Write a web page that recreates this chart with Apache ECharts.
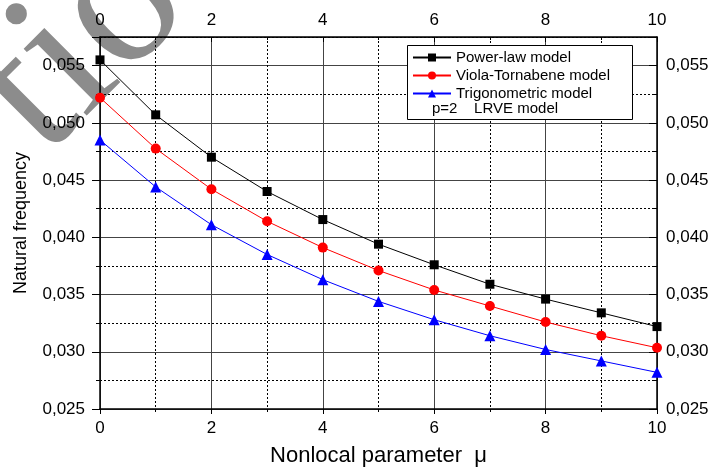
<!DOCTYPE html>
<html>
<head>
<meta charset="utf-8">
<script src="https://cdn.jsdelivr.net/npm/echarts@6/dist/echarts.min.js"></script>
<style>
  html, body { margin: 0; padding: 0; background: #fff; }
  #chart { width: 716px; height: 467px; }
</style>
</head>
<body>
<div id="chart"></div>
<script>
// Nonlocal parameter values (x) and natural frequency for each model
const mu = [0, 1, 2, 3, 4, 5, 6, 7, 8, 9, 10];
const powerLaw = [0.0555, 0.0507, 0.0470, 0.0440, 0.04155, 0.0394, 0.0376, 0.0359, 0.0346, 0.0334, 0.0322];
const violaTornabene = [0.0522, 0.04775, 0.0442, 0.0414, 0.0391, 0.0371, 0.0354, 0.0340, 0.0326, 0.0314, 0.03035];
const trigonometric = [0.0485, 0.0444, 0.0411, 0.0385, 0.0363, 0.0344, 0.0328, 0.0314, 0.0302, 0.0292, 0.0282];

const seriesNames = ['Power-law model', 'Viola-Tornabene model', 'Trigonometric model'];
const legendNote = 'p=2    LRVE model';
const xName = 'Nonlocal parameter  \u03bc';
const yName = 'Natural frequency';

const FONT = 'Liberation Sans, Arial, sans-serif';
const fmtY = v => v.toFixed(3).replace('.', ',');

const chart = echarts.init(document.getElementById('chart'), null, { renderer: 'canvas' });

const pairs = ys => mu.map((x, i) => [x, ys[i]]);

const baseX = {
  type: 'value', min: 0, max: 10, interval: 2,
  axisLine: { show: true, onZero: false, lineStyle: { color: '#000', width: 1.5 } },
  minorTick: { show: true, splitNumber: 2, length: 3, lineStyle: { color: '#000' } },
  axisLabel: { color: '#000', fontFamily: FONT, fontSize: 17 },
};
const baseY = {
  type: 'value', min: 0.025, max: 0.0575, interval: 0.005,
  axisLine: { show: true, onZero: false, lineStyle: { color: '#000', width: 1.5 } },
  minorTick: { show: true, splitNumber: 2, length: 4, lineStyle: { color: '#000' } },
  axisLabel: { color: '#000', fontFamily: FONT, fontSize: 17, formatter: fmtY, showMaxLabel: false },
};

chart.setOption({
  animation: false,
  backgroundColor: '#fff',
  grid: { left: 100, right: 59, top: 37, bottom: 58, containLabel: false, outerBoundsMode: 'none' },
  xAxis: [
    Object.assign({}, baseX, {
      position: 'bottom',
      name: xName, nameLocation: 'middle', nameGap: 36,
      nameTextStyle: { color: '#000', fontFamily: FONT, fontSize: 22 },
      axisTick: { show: true, inside: false, length: 5, lineStyle: { color: '#000' } },
      axisLabel: Object.assign({}, baseX.axisLabel, { margin: 11 }),
      splitLine: { show: true, lineStyle: { color: '#444', width: 1 } },
      minorSplitLine: { show: true, lineStyle: { color: '#000', width: 1, type: [2, 2] } },
    }),
    Object.assign({}, baseX, {
      position: 'top',
      axisTick: { show: true, inside: true, length: 5, lineStyle: { color: '#000' } },
      minorTick: { show: true, splitNumber: 2, length: 3, lineStyle: { color: '#000' } },
      axisLabel: Object.assign({}, baseX.axisLabel, { margin: 8 }),
      splitLine: { show: false },
    }),
  ],
  yAxis: [
    Object.assign({}, baseY, {
      position: 'left',
      name: yName, nameLocation: 'middle', nameGap: 70,
      nameTextStyle: { color: '#000', fontFamily: FONT, fontSize: 18 },
      axisTick: { show: true, inside: false, length: 8, lineStyle: { color: '#000' } },
      axisLabel: Object.assign({}, baseY.axisLabel, { margin: 15 }),
      splitLine: { show: true, lineStyle: { color: '#444', width: 1 } },
      minorSplitLine: { show: true, lineStyle: { color: '#000', width: 1, type: [2, 2] } },
    }),
    Object.assign({}, baseY, {
      position: 'right',
      axisTick: { show: true, inside: true, length: 8, lineStyle: { color: '#000' } },
      minorTick: { show: true, splitNumber: 2, length: 5, lineStyle: { color: '#000' } },
      axisLabel: Object.assign({}, baseY.axisLabel, { margin: 9 }),
      splitLine: { show: false },
    }),
  ],
  legend: {
    orient: 'vertical', left: 412, top: 50, z: 30,
    itemWidth: 38, itemHeight: 10, itemGap: 3,
    padding: 0,
    textStyle: { color: '#000', fontFamily: FONT, fontSize: 15, lineHeight: 15 },
    data: seriesNames,
  },
  graphic: [
    // grey watermark lettering behind the plot
    { type: 'text', z: -10, x: 82, y: 46, rotation: Math.PI / 4, silent: true,
      style: { text: 'tio', font: '200px "Liberation Serif", serif', fill: '#8c8c8c',
               textAlign: 'center', textVerticalAlign: 'middle' } },
    { type: 'rect', z: 10, shape: { x: 407.5, y: 45.5, width: 225, height: 74 },
      style: { fill: '#fff', stroke: '#000', lineWidth: 1 } },
    { type: 'text', z: 40, left: 432, top: 101,
      style: { text: legendNote, font: '15px ' + FONT, fill: '#000' } },
  ],
  series: [
    { name: seriesNames[0], type: 'line', data: pairs(powerLaw), symbol: 'rect', symbolSize: 9,
      lineStyle: { color: '#000', width: 1 }, itemStyle: { color: '#000' }, z: 3 },
    { name: seriesNames[1], type: 'line', data: pairs(violaTornabene), symbol: 'circle', symbolSize: 10,
      lineStyle: { color: '#ff0000', width: 1 }, itemStyle: { color: '#ff0000' }, z: 3 },
    { name: seriesNames[2], type: 'line', data: pairs(trigonometric), symbol: 'triangle', symbolSize: 11,
      lineStyle: { color: '#0000ff', width: 1 }, itemStyle: { color: '#0000ff' }, z: 3 },
  ],
});
</script>
</body>
</html>
